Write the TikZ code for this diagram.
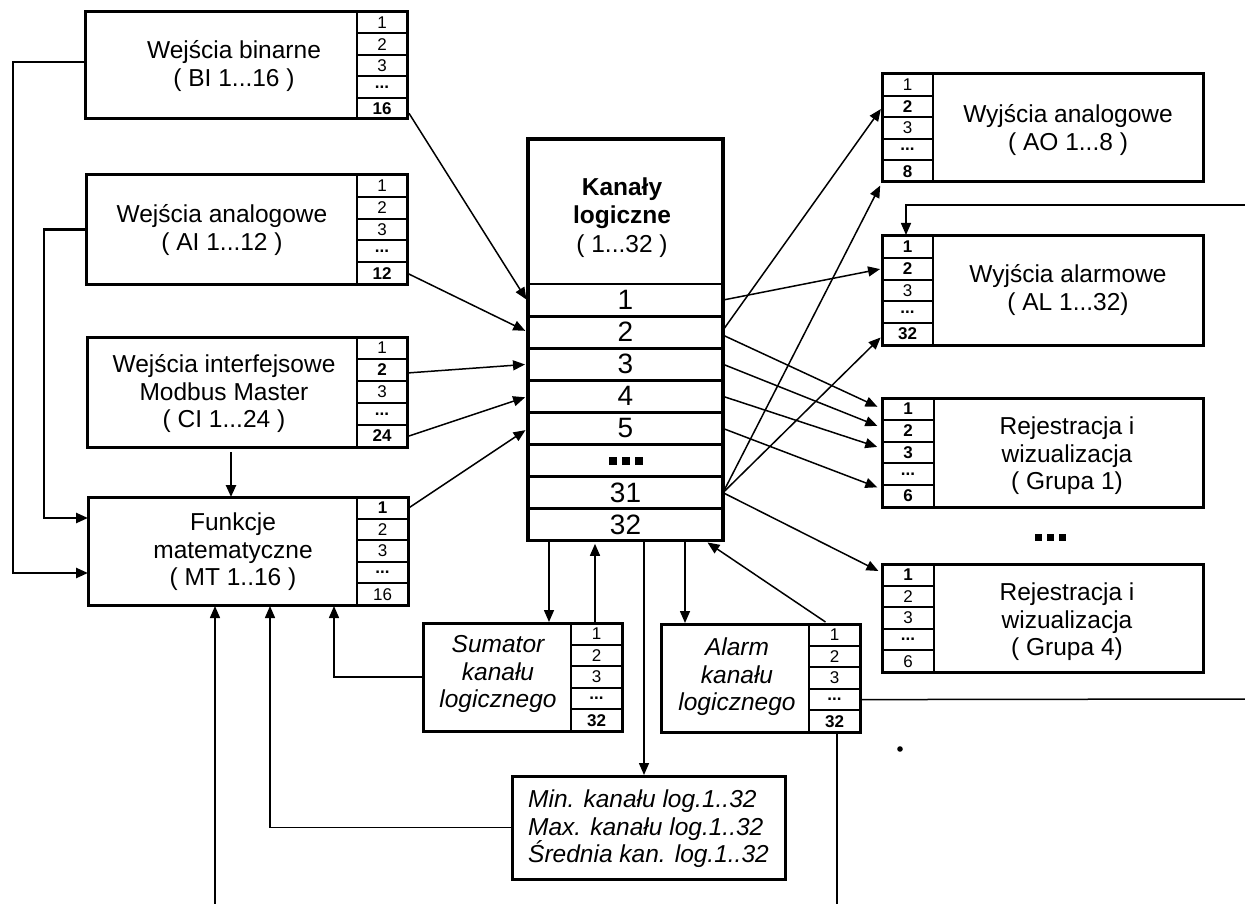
\documentclass[tikz,border=0pt]{standalone}
\usepackage{fontspec}
\setmainfont{Liberation Sans}
\usetikzlibrary{arrows.meta,calc}
\newcommand\lblfont{\fontsize{24.5}{27.5}\selectfont}
\newcommand\numfont{\fontsize{17}{18}\selectfont}
\newcommand\rowfont{\fontsize{28}{30}\selectfont}
\newcommand\sqd{\rule{8pt}{8pt}}
\newcommand\threesq{\sqd\hspace{5pt}\sqd\hspace{5pt}\sqd}
\tikzset{
  bigbox/.style={draw, line width=3pt, inner sep=0pt, outer sep=0pt, anchor=north west},
  cell/.style={draw, line width=2pt, inner sep=0pt, outer sep=0pt, font=\numfont},
  krow/.style={draw, line width=2.8pt, inner sep=0pt, outer sep=0pt, font=\rowfont},
  lbl/.style={font=\lblfont, align=center, inner sep=0pt},
  ilbl/.style={font=\lblfont\itshape, align=center, inner sep=0pt},
  conn/.style={line width=1.5pt},
  arr/.style={conn, -{Triangle[length=12pt,width=10pt]}, shorten >=1pt},
  tarr/.style={line width=2.4pt, -{Triangle[length=12pt,width=10pt]}},
}
% #1 name, #2 x-left, #3 x-right, #4 y-top, #5 y-bottom, #6 labels
\newcommand\cellcol[6]{%
  \pgfmathsetmacro\mycw{#3-#2}%
  \pgfmathsetmacro\mych{(#5-#4)/5}%
  \foreach \lab [count=\i] in {#6}{%
    \node[cell, minimum width=\mycw pt, minimum height=\mych pt] (#1-\i)
      at ({(#2+#3)/2},{#4+(\i-0.5)*\mych}) {\lab};
  }}
% #1 name, #2 x1, #3 y1, #4 x2, #5 y2
\newcommand\outerbox[5]{%
  \pgfmathsetmacro\mybw{#4-#2}%
  \pgfmathsetmacro\mybh{#5-#3}%
  \node[bigbox, minimum width=\mybw pt, minimum height=\mybh pt] (#1) at (#2,#3) {};
}
\begin{document}
\begin{tikzpicture}[x=1pt,y=-1pt]
\fill[white] (0,0) rectangle (1245,904);
\useasboundingbox (0,0) rectangle (1245,904);

% ---- left input boxes
\cellcol{bi}{357}{407}{12}{119}{1,2,3,\textbf{...},\textbf{16}}
\outerbox{bi}{85}{12}{407}{119}
\node[lbl] (bi-t) at (234,66) {Wejścia binarne\\( BI 1...16 )};

\cellcol{ai}{357}{407}{175}{284}{1,2,3,\textbf{...},\textbf{12}}
\outerbox{ai}{86}{175}{407}{284}
\node[lbl] (ai-t) at (222,230) {Wejścia analogowe\\( AI 1...12 )};

\cellcol{ci}{357}{407}{337}{447}{1,\textbf{2},3,\textbf{...},\textbf{24}}
\outerbox{ci}{87}{337}{407}{447}
\node[lbl] (ci-t) at (224,394) {Wejścia interfejsowe\\Modbus Master\\( CI 1...24 )};

\cellcol{mt}{357}{408}{497}{605}{\textbf{1},2,3,\textbf{...},16}
\outerbox{mt}{88}{497}{408}{605}
\node[lbl] (mt-t) at (233,552) {Funkcje\\matematyczne\\( MT 1..16 )};

% ---- central box
\node[krow, anchor=north west, minimum width=195pt, minimum height=145pt] (kl) at (528,139) {};
\node[lbl] (kl-t) at (622,218) {\textbf{Kanały}\\\textbf{logiczne}\\[2pt]( 1...32 )};
\foreach \lab [count=\i] in {1,2,3,4,5,\threesq,31,32}{
  \node[krow, minimum width=195pt, minimum height=32.1pt] (kl-\i) at (625.5,{284+(\i-0.5)*32.1}) {\lab};
}
\draw[line width=3.2pt] (kl.north west) rectangle (kl-8.south east);

% ---- right output boxes
\cellcol{ao}{882}{933}{74}{182}{1,\textbf{2},3,\textbf{...},\textbf{8}}
\outerbox{ao}{882}{74}{1203}{182}
\node[lbl] (ao-t) at (1068,130) {Wyjścia analogowe\\( AO 1...8 )};

\cellcol{al}{882}{933}{236}{345}{\textbf{1},\textbf{2},3,\textbf{...},\textbf{32}}
\outerbox{al}{882}{236}{1203}{345}
\node[lbl] (al-t) at (1068,290) {Wyjścia alarmowe\\( AL 1...32)};

\cellcol{ra}{882}{934}{398}{507}{\textbf{1},\textbf{2},\textbf{3},\textbf{...},\textbf{6}}
\outerbox{ra}{882}{398}{1203}{507}
\node[lbl] (ra-t) at (1067,456) {Rejestracja i\\wizualizacja\\( Grupa 1)};

\node (dots) at (1050,537) {\rule{7pt}{7pt}\hspace{5pt}\rule{7pt}{7pt}\hspace{5pt}\rule{7pt}{7pt}};

\cellcol{rb}{882}{934}{564}{672}{\textbf{1},2,3,\textbf{...},6}
\outerbox{rb}{882}{564}{1203}{672}
\node[lbl] (rb-t) at (1067,622) {Rejestracja i\\wizualizacja\\( Grupa 4)};

% ---- bottom boxes
\cellcol{sm}{571}{622}{623}{731}{1,2,3,\textbf{...},\textbf{32}}
\outerbox{sm}{423}{623}{622}{731}
\node[ilbl] (sm-t) at (498,674) {Sumator\\kanału\\logicznego};

\cellcol{am}{809}{860}{624}{732}{1,2,3,\textbf{...},\textbf{32}}
\outerbox{am}{661}{624}{860}{732}
\node[ilbl] (am-t) at (737,677) {Alarm\\kanału\\logicznego};

\outerbox{mn}{512}{776}{785}{879}
\node[font=\lblfont\itshape, align=left, inner sep=0pt, anchor=west] (mn-t) at (528,829)
  {Min. kanału log.1..32\\Max. kanału log.1..32\\Średnia kan. log.1..32};

% ---- free ends
\coordinate (bl) at (215,904);
\coordinate (br) at (837,904);
\coordinate (re1) at (1245,699);
\coordinate (re2) at (1245,205);

% ---- left feedback lines
\draw[tarr] ([yshift=3.5pt]bi.west) -- ++(-72,0) |- ([yshift=-22pt]mt.west);
\draw[tarr] (ai.west) -- ++(-42,0) |- ([yshift=33pt]mt.west);
\draw[tarr] ([xshift=-16pt,yshift=-5pt]ci.south) -- ([xshift=-17pt]mt.north);

% ---- inputs to central box
\draw[arr, shorten >=3pt] ([xshift=2pt,yshift=-5pt]bi-5.east) -- ([yshift=-2pt]kl-1.west);
\draw[arr, shorten >=3pt] (ai-5.east) -- (kl-2.west);
\draw[arr, shorten >=3pt] ([yshift=-3pt]ci-2.east) -- (kl-3.west);
\draw[arr, shorten >=3pt] ([xshift=2pt]ci-5.east) -- (kl-4.west);
\draw[arr, shorten >=3pt] ([xshift=1pt]mt-1.east) -- (kl-5.west);

% ---- outputs from central box
\draw[arr, shorten >=2pt] (kl-1.east) -- (al-2.west);
\draw[arr, shorten >=2pt] ([yshift=2pt]kl-2.east) -- ([yshift=-1pt]ao-2.west);
\draw[arr, shorten >=5pt] ([yshift=-3pt]kl-2.east) -- (ra-1.west);
\draw[arr, shorten >=5pt] (kl-3.east) -- ([yshift=3pt]ra-2.west);
\draw[arr, shorten >=5pt] (kl-4.east) -- ([yshift=4pt]ra-3.west);
\draw[arr, shorten >=5pt] (kl-5.east) -- ([yshift=7pt]ra-5.west);
\draw[arr, shorten >=4pt] (kl-7.east) -- (ao-5.south west);
\draw[arr, shorten >=2pt] (kl-7.east) -- ([yshift=-2pt]al-5.west);
\draw[arr, shorten >=4pt] (kl-7.east) -- ([yshift=2pt]rb-1.west);

% ---- bottom connections
\draw[arr] ([xshift=-76.5pt]kl-8.south) -- ([xshift=-76.5pt]kl-8.south |- sm.north);
\draw[arr] ([xshift=-30.5pt]kl-8.south |- sm.north) -- ([xshift=-30.5pt,yshift=-2pt]kl-8.south);
\draw[arr] ([xshift=18.5pt]kl-8.south) -- ([xshift=18.5pt]kl-8.south |- mn.north);
\draw[arr] ([xshift=59.5pt]kl-8.south) -- ([xshift=59.5pt]kl-8.south |- am.north);
\draw[arr, shorten >=3pt] ([xshift=-9pt,yshift=2pt]am-1.north) -- ([xshift=-18pt]kl-8.south east);

\draw[arr] (sm.west) -| ([xshift=86pt]mt.south);
\draw[arr] (mn.west) -| ([xshift=22pt]mt.south);
\draw[arr] (bl) -- (bl |- mt.south);

\draw[conn] ([xshift=2.5pt]am-5.south) -- (br);
\draw[conn] (am-4.east) -- (re1);
\draw[arr] (re2) -| ([xshift=-1.5pt]al-1.north);

\fill (900,749) circle (2.8pt);
\end{tikzpicture}
\end{document}
